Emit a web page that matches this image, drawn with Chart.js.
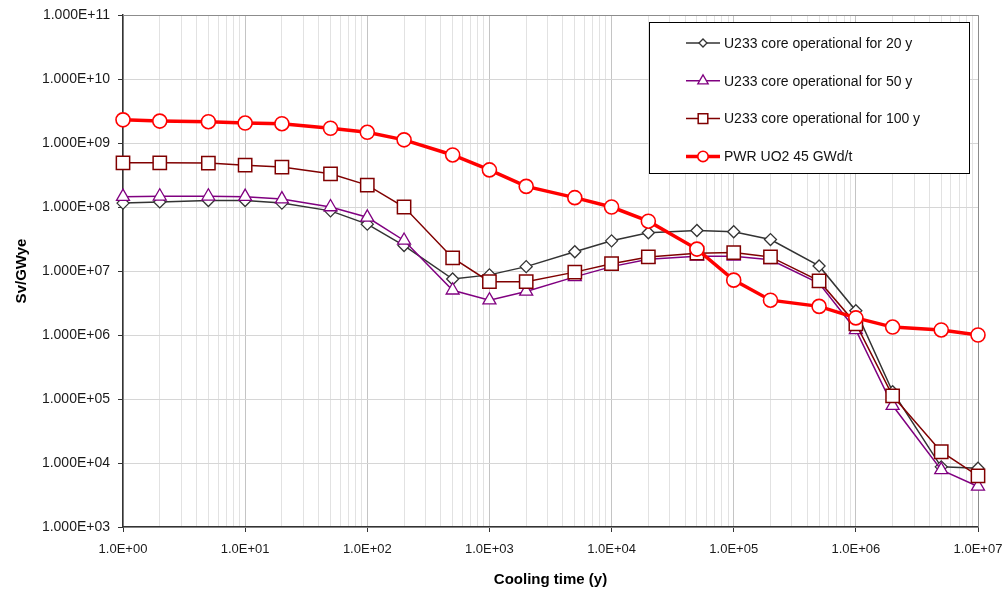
<!DOCTYPE html>
<html>
<head>
<meta charset="utf-8">
<script src="https://cdn.jsdelivr.net/npm/chart.js@4/dist/chart.umd.min.js"></script>
<style>
html,body{margin:0;padding:0;background:#fff;}
#box{width:1008px;height:591px;position:relative;}
</style>
</head>
<body>
<div id="box"><canvas id="grafico"></canvas></div>
<script>

/* =============================
DADOS
============================= */

const tempos=[1,2,5,10,20,50,100,200,500,1e3,2e3,5e3,1e4,2e4,5e4,1e5,2e5,5e5,1e6,2e6,5e6,1e7];

const u233_20y=[1.15e8,1.2e8,1.26e8,1.26e8,1.15e8,8.7e7,5.4e7,2.5e7,7.5e6,8.7e6,1.17e7,2.0e7,2.96e7,3.96e7,4.3e7,4.1e7,3.1e7,1.2e7,2.4e6,1.3e5,8.7e3,8.3e3];
const u233_50y=[1.45e8,1.47e8,1.47e8,1.45e8,1.33e8,1.0e8,6.9e7,3.0e7,5.0e6,3.5e6,4.8e6,8.1e6,1.17e7,1.53e7,1.7e7,1.7e7,1.5e7,6.4e6,1.2e6,7.9e4,7.8e3,4.3e3];
const u233_100y=[4.9e8,4.9e8,4.85e8,4.5e8,4.2e8,3.3e8,2.2e8,1.0e8,1.6e7,6.8e6,6.8e6,9.6e6,1.3e7,1.66e7,1.9e7,1.94e7,1.66e7,7.0e6,1.5e6,1.12e5,1.5e4,6.3e3];
const pwr_uo2=[2.3e9,2.2e9,2.15e9,2.05e9,2.0e9,1.7e9,1.47e9,1.12e9,6.5e8,3.8e8,2.1e8,1.4e8,1.0e8,6.0e7,2.2e7,7.2e6,3.5e6,2.8e6,1.85e6,1.33e6,1.2e6,1.0e6];

const rotulos=["U233 core operational for 20 y","U233 core operational for 50 y","U233 core operational for 100 y","PWR UO2 45 GWd/t"];

const decadasX=[0,1,2,3,4,5,6,7];
const decadasY=[3,4,5,6,7,8,9,10,11];

const FONTE="'Liberation Sans', Arial, sans-serif";

/* =============================
AUXILIARES
============================= */

function pontos(valores){
return tempos.map((t,i)=>({x:t,y:valores[i]}));
}

function ehDecada(v){
const l=Math.log10(v);
return Math.abs(l-Math.round(l))<1e-6;
}

function expoente(v){
const e=Math.round(Math.log10(v));
return "+"+(e<10?"0"+e:e);
}

/* =============================
LEGENDA (dentro da area)
============================= */

const raioLegenda=[4,6,6.8,5.2];

const legendaPlugin={
id:"legendaCaixa",
afterDraw(chart){
const ctx=chart.ctx;
const a=chart.chartArea;
const x0=a.right-329,y0=a.top+7,w=320,h=151;
ctx.save();
ctx.fillStyle="#fff";
ctx.fillRect(x0,y0,w,h);
ctx.strokeStyle="#000";
ctx.lineWidth=1;
ctx.strokeRect(x0+0.5,y0+0.5,w,h);
chart.data.datasets.forEach((ds,i)=>{
const yy=y0+21+i*37.8;
ctx.strokeStyle=ds.borderColor;
ctx.lineWidth=ds.borderWidth;
ctx.beginPath();
ctx.moveTo(x0+37,yy);
ctx.lineTo(x0+71,yy);
ctx.stroke();
ctx.fillStyle="#fff";
ctx.strokeStyle=ds.pointBorderColor;
ctx.lineWidth=ds.pointBorderWidth;
Chart.helpers.drawPoint(ctx,{pointStyle:ds.pointStyle,radius:raioLegenda[i],rotation:0,borderWidth:ds.pointBorderWidth},x0+54,yy);
ctx.fillStyle="#111";
ctx.font="14px "+FONTE;
ctx.textBaseline="middle";
ctx.fillText(ds.label,x0+75,yy+1);
});
ctx.restore();
}
};

/* moldura cinza em cima e a direita */

const molduraPlugin={
id:"moldura",
beforeDatasetsDraw(chart){
const ctx=chart.ctx;
const a=chart.chartArea;
ctx.save();
ctx.strokeStyle="#8c8c8c";
ctx.lineWidth=1;
ctx.beginPath();
ctx.moveTo(a.left,a.top+0.5);
ctx.lineTo(a.right+0.5,a.top+0.5);
ctx.lineTo(a.right+0.5,a.bottom);
ctx.stroke();
ctx.restore();
}
};

/* =============================
GRAFICO
============================= */

Chart.defaults.font.family=FONTE;
Chart.defaults.color="#1a1a1a";

new Chart(document.getElementById("grafico"),{
type:"line",
data:{
datasets:[
{label:rotulos[0],data:pontos(u233_20y),borderColor:"#333333",borderWidth:1.5,pointStyle:"rectRot",pointRadius:6,pointBorderColor:"#333333",pointBackgroundColor:"#fff",pointBorderWidth:1.3,order:3,clip:false},
{label:rotulos[1],data:pontos(u233_50y),borderColor:"#800080",borderWidth:1.5,pointStyle:"triangle",pointRadius:7.5,pointBorderColor:"#800080",pointBackgroundColor:"#fff",pointBorderWidth:1.3,order:2,clip:false},
{label:rotulos[2],data:pontos(u233_100y),borderColor:"#800000",borderWidth:1.5,pointStyle:"rect",pointRadius:9.4,pointBorderColor:"#800000",pointBackgroundColor:"#fff",pointBorderWidth:1.5,order:1,clip:false},
{label:rotulos[3],data:pontos(pwr_uo2),borderColor:"#ff0000",borderWidth:3.5,pointStyle:"circle",pointRadius:7,pointBorderColor:"#ff0000",pointBackgroundColor:"#fff",pointBorderWidth:1.6,order:0,clip:false}
]
},
options:{
responsive:true,
maintainAspectRatio:false,
animation:false,
layout:{padding:{left:9,top:15,right:30,bottom:0}},
plugins:{legend:{display:false},tooltip:{enabled:false}},
elements:{line:{tension:0}},
scales:{
x:{
type:"logarithmic",
min:1,
max:1e7,
afterBuildTicks(scale){
const t=[];
decadasX.forEach(d=>{
for(let m=1;m<=9;m++){
if(d===7&&m>1) break;
t.push({value:m*Math.pow(10,d)});
}
});
scale.ticks=t;
},
afterFit(scale){
scale.height=64;
scale.paddingLeft=0;
scale.paddingRight=0;
},
ticks:{
autoSkip:false,
maxRotation:0,
padding:10,
font:{size:13},
callback:(v)=>ehDecada(v)?"1.0E"+expoente(v):""
},
grid:{
color:(c)=>c.tick&&ehDecada(c.tick.value)?"#c4c4c4":"#e2e2e2",
tickColor:(c)=>c.tick&&ehDecada(c.tick.value)?"#333":"rgba(0,0,0,0)",
tickLength:5
},
border:{color:"#333",width:1.5},
title:{display:true,text:"Cooling time (y)",font:{size:15,weight:"bold"},color:"#000",padding:{top:4,bottom:2}}
},
y:{
type:"logarithmic",
min:1e3,
max:1e11,
afterBuildTicks(scale){
scale.ticks=decadasY.map(d=>({value:Math.pow(10,d)}));
},
afterFit(scale){
scale.width=114;
scale.paddingTop=0;
scale.paddingBottom=0;
},
ticks:{
autoSkip:false,
padding:8,
font:{size:14},
callback:(v)=>"1.000E"+expoente(v)
},
grid:{
color:"#d6d6d6",
tickColor:"#333",
tickLength:5
},
border:{color:"#333",width:1.5},
title:{display:true,text:"Sv/GWye",font:{size:15,weight:"bold"},color:"#000",padding:{top:4,bottom:4}}
}
}
},
plugins:[molduraPlugin,legendaPlugin]
});

</script>
</body>
</html>
